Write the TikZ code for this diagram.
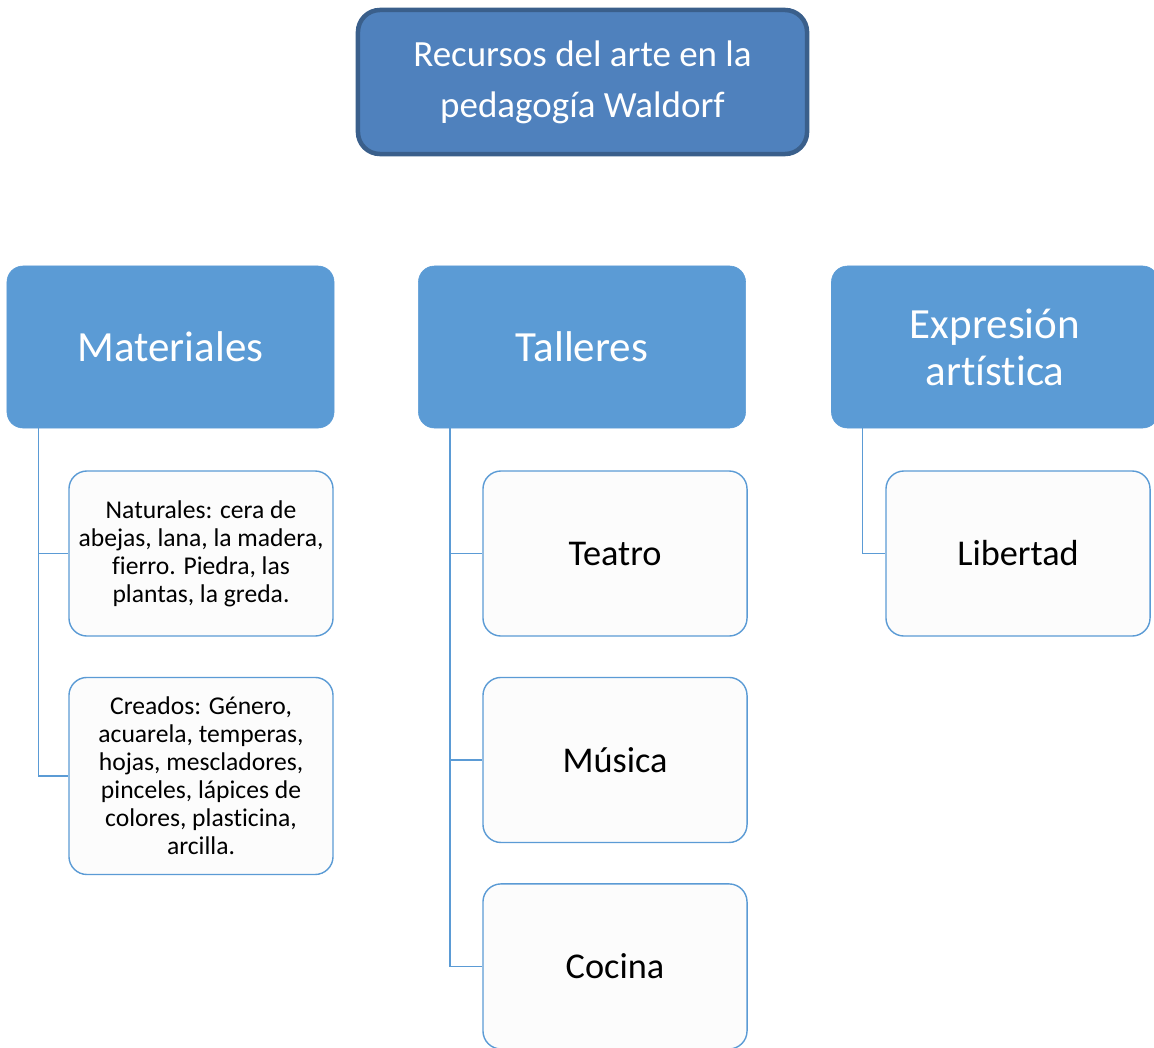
\documentclass[tikz,border=0pt]{standalone}
\usepackage{fontspec}
\setmainfont{Carlito}[Ligatures=NoCommon]
\usetikzlibrary{positioning}
\pgfdeclarelayer{background}
\pgfsetlayers{background,main}
\definecolor{titleblue}{HTML}{4F81BD}
\definecolor{titleedge}{HTML}{3A5F8B}
\definecolor{headblue}{HTML}{5B9BD5}
\definecolor{leafwhite}{HTML}{FCFCFC}
\tikzset{
  titlebox/.style={draw=titleedge, line width=3.2pt, fill=titleblue, rounded corners=0.55cm,
    minimum width=11.225cm, minimum height=3.6cm, align=center, text=white,
    font=\fontsize{26.3}{36.3}\selectfont},
  headbox/.style={draw=headblue, fill=headblue, rounded corners=0.4cm,
    minimum width=8.175cm, minimum height=4.05cm, align=center, text=white,
    font=\fontsize{30.6}{33.4}\selectfont},
  leafbox/.style={draw=headblue, line width=1pt, fill=leafwhite, rounded corners=0.45cm,
    minimum width=6.6cm, minimum height=4.125cm, align=center, text=black,
    font=\fontsize{25.8}{30}\selectfont},
  smalltext/.style={font=\fontsize{18.2}{19.9}\selectfont},
  link/.style={draw=headblue, line width=1.1pt}
}
\begin{document}
\begin{tikzpicture}[x=0.025cm, y=-0.025cm]
\clip (0,0) rectangle (1154,1047);
\node[titlebox] (top) at (582.5,82) {Recursos del arte en la\\pedagogía Waldorf};
\node[headbox] (mat) at (170.5,347) {Materiales};
\node[headbox] (tal) at (582,347) {Talleres};
\node[headbox] (exp) at (995,347) {Expresión\\artística};
\node[leafbox, smalltext] (nat) at (201,553.5) {Naturales: cera de\\abejas, lana, la madera,\\fierro. Piedra, las\\plantas, la greda.};
\node[leafbox, smalltext, minimum height=4.925cm, below=1cm of nat] (cre) {Creados: Género,\\acuarela, temperas,\\hojas, mescladores,\\pinceles, lápices de\\colores, plasticina,\\arcilla.};
\node[leafbox] (tea) at (615,553.5) {Teatro};
\node[leafbox, below=1cm of tea] (mus) {Música};
\node[leafbox, below=1cm of mus] (coc) {Cocina};
\node[leafbox] (lib) at (1018,553.5) {Libertad};
\begin{pgfonlayer}{background}
\draw[link] ([xshift=0.8cm]mat.south west) |- (nat.west);
\draw[link] ([xshift=0.8cm]mat.south west) |- (cre.west);
\draw[link] ([xshift=0.8cm]tal.south west) |- (tea.west);
\draw[link] ([xshift=0.8cm]tal.south west) |- (mus.west);
\draw[link] ([xshift=0.8cm]tal.south west) |- (coc.west);
\draw[link] ([xshift=0.78cm]exp.south west) |- (lib.west);
\end{pgfonlayer}
\end{tikzpicture}
\end{document}
